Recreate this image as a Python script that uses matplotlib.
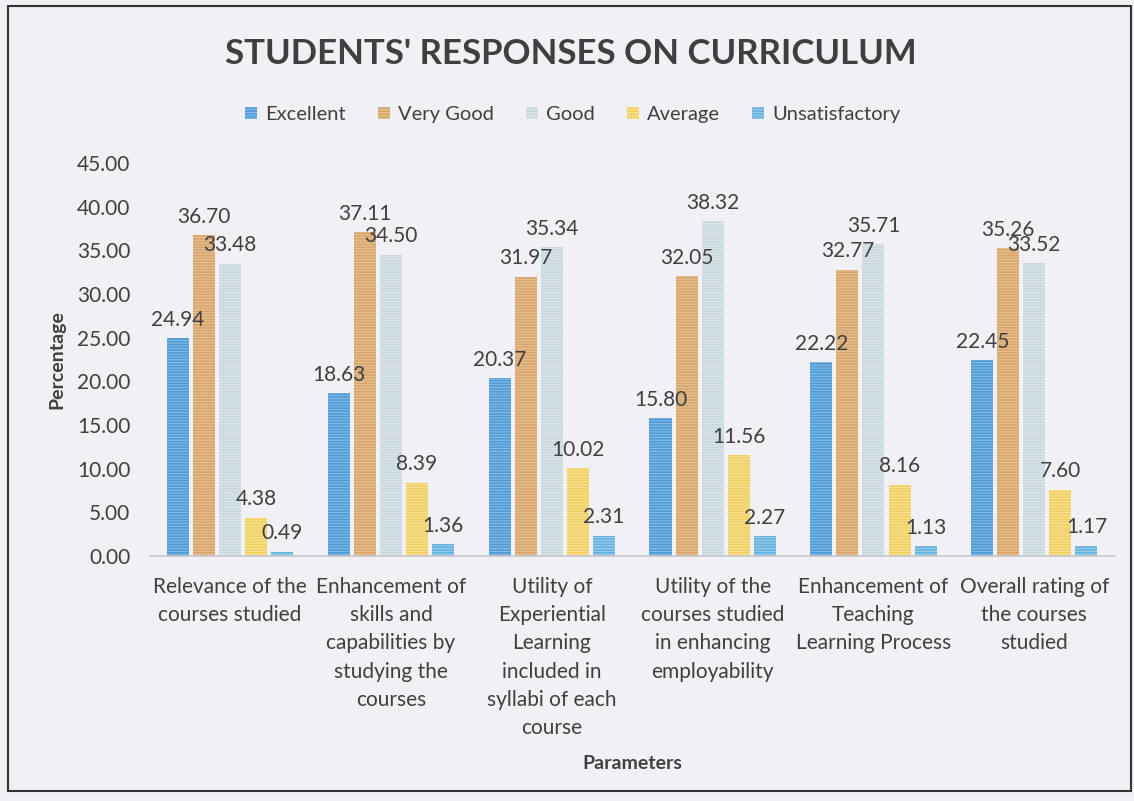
import matplotlib
matplotlib.use("Agg")
import matplotlib.pyplot as plt
import numpy as np
from matplotlib.patches import Rectangle

categories = [
    "Relevance of the\ncourses studied",
    "Enhancement of\nskills and\ncapabilities by\nstudying the\ncourses",
    "Utility of\nExperiential\nLearning\nincluded in\nsyllabi of each\ncourse",
    "Utility of the\ncourses studied\nin enhancing\nemployability",
    "Enhancement of\nTeaching\nLearning Process",
    "Overall rating of\nthe courses\nstudied",
]
series_names = ["Excellent", "Very Good", "Good", "Average", "Unsatisfactory"]
excellent = [24.94, 18.63, 20.37, 15.80, 22.22, 22.45]
very_good = [36.70, 37.11, 31.97, 32.05, 32.77, 35.26]
good = [33.48, 34.50, 35.34, 38.32, 35.71, 33.52]
average = [4.38, 8.39, 10.02, 11.56, 8.16, 7.60]
unsatisfactory = [0.49, 1.36, 2.31, 2.27, 1.13, 1.17]
yticks = [0, 5, 10, 15, 20, 25, 30, 35, 40, 45]

series = [excellent, very_good, good, average, unsatisfactory]
colors = ["#4F9BD6", "#D8A56C", "#C9D8DD", "#F1D062", "#66B1E0"]
hatch_colors = ["#86BCE6", "#E6C296", "#DCE6EA", "#F6E196", "#9ACDEC"]

plt.rcParams['font.family'] = ['Lato', 'DejaVu Sans']
text_color = "#404040"
bg = "#F0F0F5"

fig = plt.figure(figsize=(11.34, 8.01), dpi=100, facecolor=bg)
ax = fig.add_axes([0.132, 0.306, 0.851, 0.4905])
ax.set_facecolor(bg)

x = np.arange(len(categories))
step = 0.162
width = 0.137
plt.rcParams['hatch.linewidth'] = 0.8
for i, (name, vals) in enumerate(zip(series_names, series)):
    pos = x + (i - 2) * step
    ax.bar(pos, vals, width=width, color=colors[i], label=name,
           edgecolor=hatch_colors[i], linewidth=0, hatch='------')
    for p, v in zip(pos, vals):
        ax.annotate(f"{v:.2f}", (p, v), xytext=(0, 6), textcoords="offset points",
                    ha="center", va="bottom", fontsize=15, color=text_color)

ax.set_xlim(-0.5, len(categories) - 0.5)
ax.set_ylim(0, 45)
ax.set_yticks(yticks)
ax.set_yticklabels([f"{t:.2f}" for t in yticks], fontsize=15, color=text_color)
ax.set_xticks(x)
ax.set_xticklabels(categories, fontsize=15, color=text_color, va="top", linespacing=1.52)
ax.tick_params(axis='both', length=0)
ax.tick_params(axis='x', pad=15)
ax.tick_params(axis='y', pad=14)
for s in ["top", "right", "left"]:
    ax.spines[s].set_visible(False)
ax.spines["bottom"].set_color("#C8C8CC")
ax.spines["bottom"].set_linewidth(1.2)

ax.set_ylabel("Percentage", fontsize=14, fontweight="bold", color=text_color, labelpad=8)
fig.text(0.558, 0.047, "Parameters", fontsize=14, fontweight="bold", color=text_color,
         ha="center", va="center")

fig.text(0.503, 0.933, "STUDENTS' RESPONSES ON CURRICULUM", fontsize=25,
         fontweight="bold", color="#3F3F3F", ha="center", va="center")

fig.legend(loc="center", bbox_to_anchor=(0.505, 0.857), ncol=5, frameon=False,
           fontsize=14.5, handlelength=0.6, handleheight=0.6, handletextpad=0.4,
           columnspacing=1.6, labelcolor=text_color)

fig.patches.append(Rectangle((0.007, 0.013), 0.99, 0.98, transform=fig.transFigure,
                             fill=False, edgecolor="#333333", linewidth=1.5))

fig.savefig("out.png", dpi=100, facecolor=bg)
